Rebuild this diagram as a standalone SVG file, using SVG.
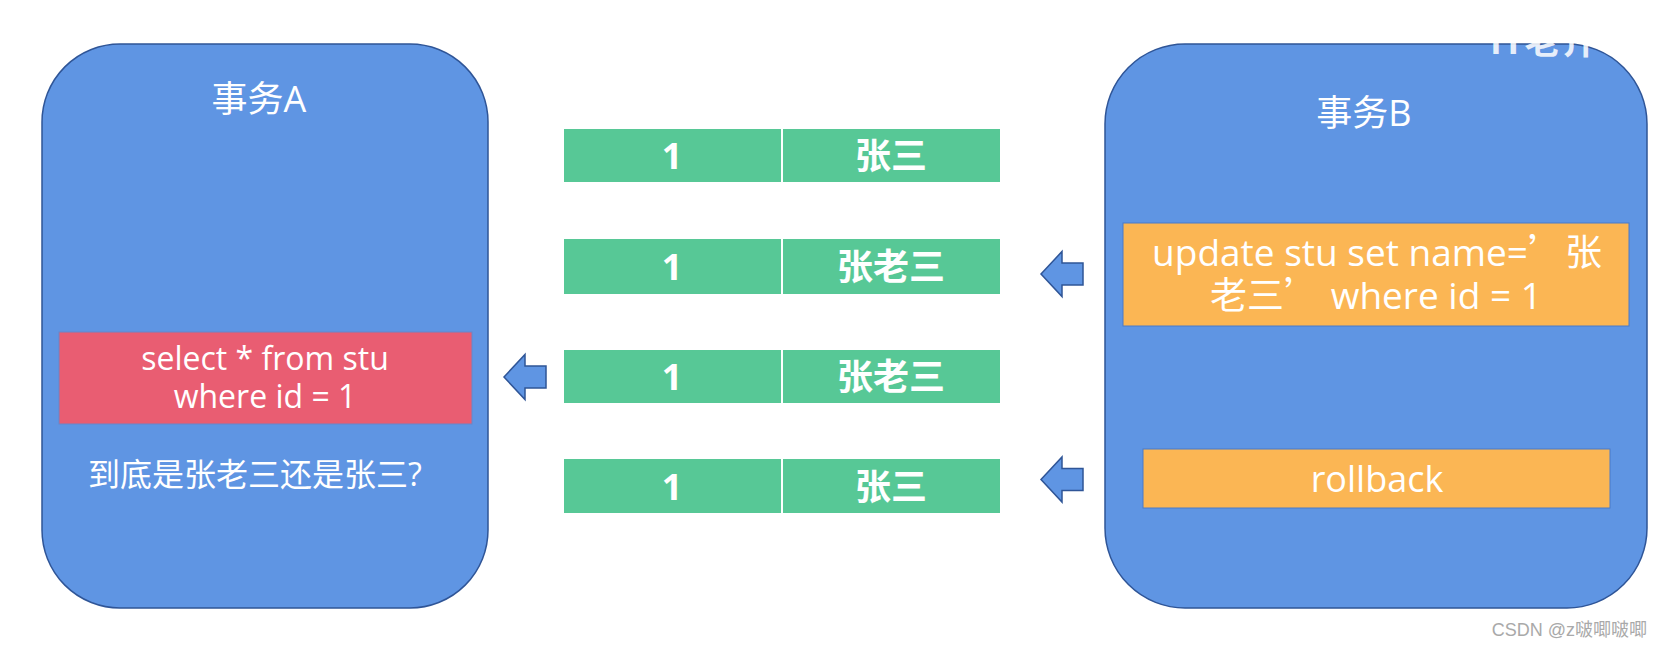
<svg xmlns="http://www.w3.org/2000/svg" width="1662" height="649" viewBox="0 0 1662 649">
<style>
.txn{fill:#5F95E3;stroke:#2F5597;stroke-width:1.5}
.t{font-family:"Open Sans","Noto Sans CJK SC",sans-serif;fill:#fff;text-anchor:middle}
.cjk{font-family:"Noto Sans CJK SC",sans-serif}
.cell{fill:#57C896}
.cv{font-family:"Open Sans","Noto Sans CJK SC",sans-serif;font-weight:bold;font-size:36px;fill:#fff;text-anchor:middle}
.sql{fill:#FBB654;stroke:#4A7BC8;stroke-width:1}
.arrow{fill:#5F95E3;stroke:#2F5597;stroke-width:1.5;stroke-linejoin:miter}
</style>
<defs>
<path id="arr" d="M0,0 L21,-22.5 L21,-11 L42,-11 L42,11 L21,11 L21,22.5 Z"/>
</defs>
<rect width="1662" height="649" fill="#fff"/>

<g id="txA">
<rect class="txn" x="42" y="44" width="446" height="564" rx="78" ry="78"/>
<text class="t" x="259" y="112" font-size="36">事务A</text>
<g id="selectA">
<rect x="59" y="332" width="413" height="92" fill="#E95D72" stroke="#6A86C8" stroke-width="1"/>
<text class="t" x="265" y="370" font-size="32">select * from stu</text>
<text class="t" x="265" y="408" font-size="32">where id = 1</text>
</g>
<text class="t" x="255" y="486" font-size="32">到底是张老三还是张三?</text>
</g>

<g id="txB">
<rect class="txn" x="1105" y="44" width="542" height="564" rx="80" ry="80"/>
<text class="t" x="1364" y="126" font-size="36">事务B</text>
<g id="update">
<rect class="sql" x="1123" y="223" width="506" height="103"/>
<text class="t" x="1377" y="266" font-size="37">update stu set name=<tspan class="cjk">’张</tspan></text>
<text class="t" x="1376" y="309" font-size="37"><tspan class="cjk">老三’</tspan>  where id = 1</text>
</g>
<g id="rollback">
<rect class="sql" x="1143" y="449" width="467" height="59"/>
<text class="t" x="1377" y="492" font-size="36">rollback</text>
</g>
</g>

<g id="row1">
<rect class="cell" x="564" y="129" width="217" height="53"/>
<rect class="cell" x="783" y="129" width="217" height="53"/>
<text class="cv" x="672" y="169">1</text>
<text class="cv" x="891" y="169">张三</text>
</g>
<g id="row2">
<rect class="cell" x="564" y="239" width="217" height="55"/>
<rect class="cell" x="783" y="239" width="217" height="55"/>
<text class="cv" x="672" y="280">1</text>
<text class="cv" x="891" y="280">张老三</text>
</g>
<g id="row3">
<rect class="cell" x="564" y="350" width="217" height="53"/>
<rect class="cell" x="783" y="350" width="217" height="53"/>
<text class="cv" x="672" y="390">1</text>
<text class="cv" x="891" y="390">张老三</text>
</g>
<g id="row4">
<rect class="cell" x="564" y="459" width="217" height="54"/>
<rect class="cell" x="783" y="459" width="217" height="54"/>
<text class="cv" x="672" y="500">1</text>
<text class="cv" x="891" y="500">张三</text>
</g>

<g id="connectors">
<use href="#arr" class="arrow" transform="translate(504,377)"/>
<use href="#arr" class="arrow" transform="translate(1041,274)"/>
<use href="#arr" class="arrow" transform="translate(1041,479.5)"/>
</g>

<text x="1490" y="54" font-family="Noto Sans CJK SC,sans-serif" font-weight="bold" font-size="36" fill="#fff" fill-opacity="0.85" text-anchor="start">IT老齐</text>
<text x="1647" y="636" font-family="Liberation Sans,Noto Sans CJK SC,sans-serif" font-size="18" fill="#A9A9A9" text-anchor="end">CSDN @z啵唧啵唧</text>
</svg>
